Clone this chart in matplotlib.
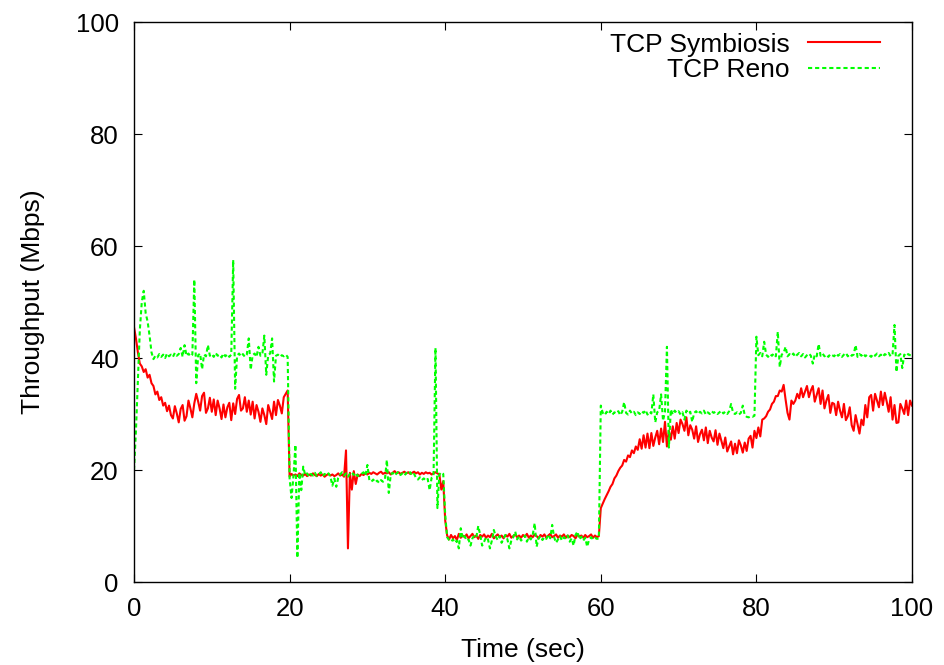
import numpy as np
import matplotlib
matplotlib.use("Agg")
import matplotlib.pyplot as plt

# sampling: one value every 0.25 s from 0 to 100 s
t_start, t_end, t_step = 0.0, 100.0, 0.25

symbiosis = [
    45.5, 43.5, 41, 39, 38.5, 37.5, 38, 36.5, 37, 35.5, 35, 33.5, 34, 32.5, 33, 31.5, 32, 30.5, 31.5, 29.8,
    29.2, 31.4, 30.1, 28.5, 30.9, 31.6, 28.8, 29.6, 32.4, 31.0, 29.4, 31.9, 33.6, 32.2, 30.6, 33.2, 33.8, 30.2, 31.0, 32.9,
    30.4, 32.6, 29.8, 32.4, 31.0, 29.1, 31.7, 29.4, 31.2, 32.0, 28.9, 31.9, 30.0, 32.7, 33.4, 30.6, 31.0, 33.0, 30.4, 32.4,
    29.9, 32.2, 29.2, 31.6, 30.4, 28.6, 31, 29.8, 28.2, 31.6, 30.4, 29.1, 32.2, 29.8, 32.5, 31.5, 30.1, 33, 33.6, 34.2,
    18.8, 19.3, 19.0, 19.2, 18.9, 19.4, 19.1, 19.0, 19.3, 18.9, 19.2, 19.0, 19.4, 19.1, 18.9, 19.3, 19.0, 19.2, 18.8, 19.1,
    19.3, 19.0, 19.2, 18.9, 19.1, 19.4, 19.0, 19.2, 18.8, 23.5, 6.0, 19.5, 16.5, 19.8, 17.5, 19.2, 18.9, 19.3, 19.1, 19.4,
    19.2, 19.5, 19.3, 19.6, 19.4, 19.2, 19.5, 19.7, 19.3, 19.5, 19.4, 19.6, 19.2, 19.5, 19.8, 19.4, 19.6, 19.3, 19.5, 19.7,
    19.4, 19.6, 19.3, 19.5, 19.7, 19.4, 19.6, 19.2, 19.5, 19.3, 19.6, 19.4, 19.5, 19.2, 19.4, 19.6, 19.4, 19.2, 16.5, 18.0,
    11.0, 8.3, 7.6, 8.4, 7.8, 8.2, 7.5, 8.6, 7.9, 8.3, 8.0, 8.5, 7.8, 8.2, 8.6, 8.0, 8.3, 7.7, 8.4, 8.1,
    8.5, 7.9, 8.3, 8.0, 8.6, 7.8, 8.2, 8.5, 8.0, 8.3, 7.8, 8.4, 8.1, 8.6, 7.9, 8.2, 8.5, 8.0, 8.3, 7.9,
    8.4, 8.1, 8.6, 7.9, 8.3, 8.0, 8.5, 8.2, 7.8, 8.4, 8.1, 8.5, 7.9, 8.3, 8.6, 8.0, 8.2, 8.5, 7.9, 8.3,
    8.1, 8.5, 7.9, 8.3, 8.0, 8.4, 8.2, 7.8, 8.5, 8.1, 8.3, 7.9, 8.4, 8.0, 8.2, 8.5, 7.9, 8.3, 8.0, 8.2,
    13.2, 14, 14.8, 15.5, 16.2, 17, 17.5, 18.5, 19, 19.8, 20.4, 20.8, 21.8, 21.5, 22.6, 22.3, 23.5, 23, 24.2, 23.6,
    25.5, 23.8, 26.2, 24, 26.5, 23.9, 26.6, 24.3, 25.8, 27, 24.6, 27.4, 25, 28.6, 24.2, 27, 25.4, 27.8, 25.6, 28.4,
    26.6, 29, 28.2, 27, 29.4, 26.2, 28, 27.2, 25.6, 27.8, 25, 26.4, 27.2, 25.3, 27.6, 24.8, 27, 25.8, 25.1, 27.1,
    24.5, 26.5, 25.2, 23.9, 25.8, 23.3, 24.2, 25.1, 22.8, 24.7, 23, 25.3, 24.4, 23.1, 24.9, 23.4, 25.6, 26.1, 24, 27,
    25.7, 27.6, 26, 29, 29.2, 29.6, 30.4, 30.8, 31.8, 32.2, 33.2, 33.2, 34.2, 34, 35.2, 32.6, 30.2, 29, 32.4, 31.8,
    32.4, 33.6, 32.8, 34.6, 33, 34, 35, 33, 34.2, 35, 32.2, 33.4, 34.6, 31.8, 34.2, 31, 32.4, 33.4, 30.2, 32,
    31.8, 29.8, 32.2, 30.6, 29.4, 31.8, 28.9, 29.6, 31.2, 28, 27, 29.8, 28.2, 26.5, 29, 28, 31.6, 29.4, 33, 33.4,
    30.6, 33.6, 32.4, 31.2, 34, 31.6, 33.8, 32.2, 30.4, 33, 29, 31.6, 28.4, 28.5, 31.8, 31, 30, 32.4, 29.8, 32.4,
    31.5,
]

reno = [
    20, 27, 36, 45, 50, 52, 48, 46.5, 44, 41, 39.8, 40.4, 40.1, 40.7, 40.2, 40.6, 40.0, 40.8, 40.3, 40.6,
    40.2, 40.9, 40.4, 40.7, 41.8, 40.2, 42.3, 40.4, 40.8, 40.3, 40.6, 54.0, 35.5, 40.5, 40.8, 38.0, 40.6, 40.3, 42.3, 40.4,
    40.7, 40.2, 40.9, 40.4, 40.6, 40.1, 40.8, 40.3, 40.7, 40.2, 40.6, 57.5, 34.5, 40.4, 40.8, 40.3, 40.7, 40.2, 40.6, 43.5,
    37.9, 40.5, 40.8, 40.2, 42.0, 40.4, 40.7, 44.0, 37.0, 40.5, 40.8, 43.5, 35.8, 40.4, 40.6, 40.2, 40.5, 40.3, 40.6, 40.2,
    18.5, 15.0, 19.0, 24.5, 4.3, 19.5, 16.4, 20.6, 19.1, 19.4, 18.8, 19.3, 19.0, 19.5, 18.9, 19.2, 19.6, 18.9, 19.3, 19.0,
    19.4, 18.8, 17.2, 18.5, 17.0, 18.6, 19.2, 19.6, 19.0, 19.4, 18.8, 19.3, 19.6, 19.1, 19.5, 18.9, 19.2, 19.3, 19.6, 19.0,
    20.9, 18.2, 17.9, 18.3, 17.8, 18.1, 17.7, 18.2, 17.9, 18.3, 21.8, 15.9, 19.2, 19.5, 19.0, 19.4, 19.7, 19.1, 19.4, 19.0,
    19.5, 19.2, 19.6, 19.0, 19.3, 18.6, 18.3, 18.7, 18.2, 18.5, 18.1, 18.4, 16.4, 18.6, 18.9, 41.8, 13.2, 19.2, 19.6, 19.3,
    12.0, 8.0, 7.5, 7.2, 7.6, 7.0, 7.4, 6.0, 9.6, 7.8, 8.2, 7.4, 7.6, 6.5, 7.8, 8.3, 8.0, 10.0, 8.4, 6.5,
    7.2, 8.0, 7.6, 6.0, 7.4, 9.3, 8.1, 7.5, 8.2, 7.0, 7.8, 8.4, 7.6, 6.0, 7.4, 8.0, 9.0, 7.6, 8.2, 7.4,
    7.8, 8.3, 7.2, 8.0, 7.6, 8.4, 10.5, 6.3, 7.8, 8.2, 7.5, 8.0, 7.7, 8.5, 7.8, 10.2, 8.0, 7.0, 7.6, 8.2,
    7.4, 8.0, 7.7, 8.3, 7.2, 7.8, 6.5, 8.4, 9.0, 7.6, 8.1, 7.4, 7.9, 6.3, 7.6, 8.0, 7.6, 7.9, 7.7, 7.8,
    31.5, 30.2, 29.8, 30.4, 30.0, 30.6, 29.9, 30.3, 30.1, 30.5, 29.8, 30.4, 32.1, 30.2, 29.9, 30.6, 30.1, 30.4, 29.8, 30.3,
    30.0, 30.5, 30.2, 30.7, 29.9, 30.4, 30.1, 33.5, 28.5, 30.3, 30.6, 33.5, 28.8, 30.4, 42.0, 24.0, 30.8, 29.9, 30.6, 30.2,
    30.5, 29.9, 30.3, 29.0, 30.6, 30.1, 30.4, 28.6, 30.2, 30.5, 30.0, 30.4, 30.1, 30.6, 29.9, 30.3, 30.0, 30.5, 30.2, 30.4,
    30.0, 30.3, 30.6, 30.1, 30.4, 30.0, 30.5, 31.8, 30.2, 30.0, 30.3, 29.9, 30.2, 31.5, 29.8, 29.5, 29.4, 29.6, 29.5, 29.7,
    43.8, 40.5, 40.9, 40.3, 42.9, 40.6, 40.2, 40.7, 40.4, 40.8, 40.3, 44.7, 38.4, 40.6, 40.9, 42.0, 40.3, 40.7, 40.4, 40.8,
    40.2, 40.6, 40.9, 40.3, 40.7, 40.1, 40.5, 40.8, 40.4, 39.0, 40.6, 40.3, 42.5, 40.4, 40.8, 40.3, 40.6, 40.2, 40.7, 40.5,
    40.3, 40.8, 40.4, 40.7, 40.2, 40.6, 40.9, 40.3, 40.7, 40.4, 40.6, 42.3, 40.2, 40.7, 40.4, 40.8, 40.3, 40.6, 40.5, 40.2,
    40.7, 40.4, 40.8, 40.3, 40.6, 40.2, 40.7, 40.5, 40.9, 40.3, 40.6, 45.9, 37.5, 40.4, 40.7, 38.2, 40.6, 40.3, 40.7, 40.5,
    40.4,
]

series_labels = ["TCP Symbiosis", "TCP Reno"]
x_ticks = [0, 20, 40, 60, 80, 100]
y_ticks = [0, 20, 40, 60, 80, 100]

time = np.arange(len(symbiosis)) * t_step + t_start

plt.rcParams['font.family'] = ['Liberation Sans', 'DejaVu Sans']
FS = 19

fig = plt.figure(figsize=(9.44, 6.65), dpi=100)
ax = fig.add_axes([134 / 944, 1 - 582 / 665, (912 - 134) / 944, (582 - 22) / 665])

ax.plot(time, symbiosis, color='#ff0000', lw=1.5, label=series_labels[0])
ax.plot(time, reno, color='#00ff00', lw=1.5, linestyle=(0, (2.0, 1.4)), label=series_labels[1])

ax.set_xlim(0, 100)
ax.set_ylim(0, 100)
ax.set_xticks(x_ticks)
ax.set_yticks(y_ticks)
ax.tick_params(direction='in', length=6, width=0.8, top=True, right=True, labelsize=18.5)
ax.tick_params(axis='x', pad=11)
ax.tick_params(axis='y', pad=11)
for s in ax.spines.values():
    s.set_linewidth(1.0)

ax.set_xlabel('Time (sec)', fontsize=FS, labelpad=12)
ax.set_ylabel('Throughput (Mbps)', fontsize=FS, labelpad=22)

leg = ax.legend(loc='upper right', frameon=False, markerfirst=False, fontsize=FS,
                handlelength=2.75, handletextpad=0.68, labelspacing=0.05,
                borderaxespad=0.0, bbox_to_anchor=(0.973, 1.0))
for vp in leg._legend_handle_box.get_children():
    vp.align = "right"

fig.savefig('out.png', dpi=100)
